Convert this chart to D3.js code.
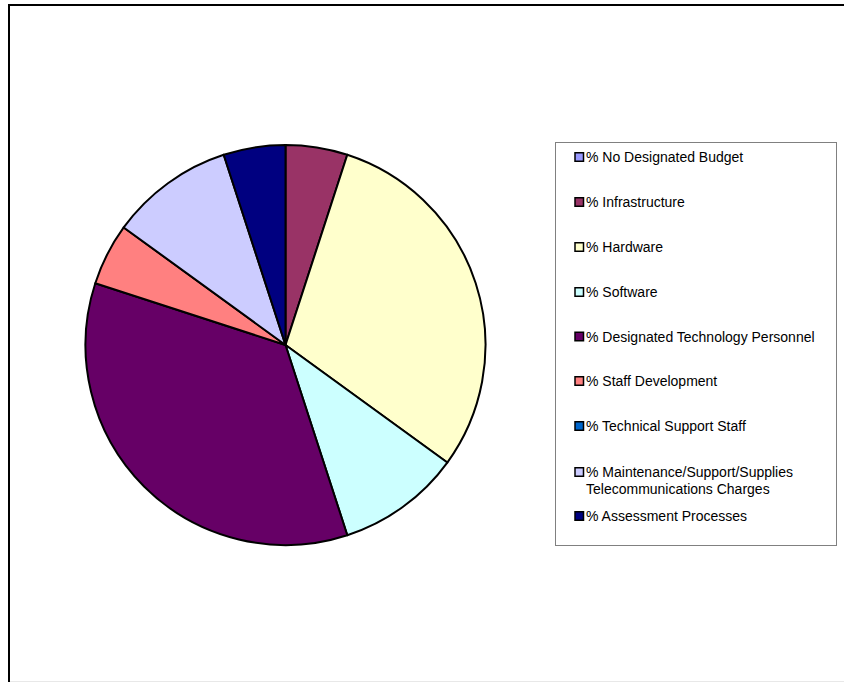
<!DOCTYPE html>
<html>
<head>
<meta charset="utf-8">
<script src="https://cdn.jsdelivr.net/npm/d3@7"></script>
<style>
  html, body { margin: 0; padding: 0; background: #fff; }
  svg { display: block; }
  text { font-family: "Liberation Sans", Arial, sans-serif; }
</style>
</head>
<body>
<svg id="chart" width="844" height="682"></svg>
<script>
// Technology budget allocation (percent of total)
const categories = [
  "% No Designated Budget",
  "% Infrastructure",
  "% Hardware",
  "% Software",
  "% Designated Technology Personnel",
  "% Staff Development",
  "% Technical Support Staff",
  "% Maintenance/Support/Supplies\nTelecommunications Charges",
  "% Assessment Processes"
];
const values = [0, 5, 30, 10, 35, 5, 0, 10, 5];
const colors = ["#9999FF", "#993366", "#FFFFCC", "#CCFFFF", "#660066",
                "#FF8080", "#0066CC", "#CCCCFF", "#000080"];

const svg = d3.select("#chart");

// chart-area frame (left and top edges visible)
svg.append("rect")
  .attr("x", 9).attr("y", 5)
  .attr("width", 850).attr("height", 700)
  .attr("fill", "none").attr("stroke", "#000").attr("stroke-width", 2);
svg.append("line")
  .attr("x1", 10).attr("x2", 844).attr("y1", 681.5).attr("y2", 681.5)
  .attr("stroke", "#e8e8e8").attr("stroke-width", 1);

const data = categories.map((c, i) => ({ name: c, value: values[i], color: colors[i] }));

const pie = d3.pie().value(d => d.value).sort(null);
const arc = d3.arc().innerRadius(0).outerRadius(200);

const g = svg.append("g").attr("transform", "translate(285.5,345)");
g.selectAll("path")
  .data(pie(data).filter(d => d.data.value > 0))
  .join("path")
  .attr("d", arc)
  .attr("fill", d => d.data.color)
  .attr("stroke", "#000")
  .attr("stroke-width", 2)
  .attr("stroke-linejoin", "round");

// legend
const legend = svg.append("g");
legend.append("rect")
  .attr("x", 555.5).attr("y", 142.5)
  .attr("width", 281).attr("height", 403)
  .attr("fill", "#fff").attr("stroke", "#808080").attr("stroke-width", 1);

const itemY = [157, 202, 247, 292, 336.5, 381, 426, 472, 516];
const items = legend.selectAll("g.item")
  .data(data)
  .join("g")
  .attr("class", "item")
  .attr("transform", (d, i) => `translate(0,${itemY[i]})`);

items.append("rect")
  .attr("x", 575).attr("y", -4.25)
  .attr("width", 8.5).attr("height", 8.5)
  .attr("fill", d => d.color)
  .attr("stroke", "#000").attr("stroke-width", 1.5);

items.each(function(d) {
  const lines = d.name.split("\n");
  const t = d3.select(this).append("text")
    .attr("x", 586).attr("y", 5)
    .attr("font-size", 14).attr("fill", "#000");
  lines.forEach((ln, k) => {
    t.append("tspan")
      .attr("x", 586)
      .attr("dy", k === 0 ? 0 : 16.5)
      .text(ln);
  });
});
</script>
</body>
</html>
